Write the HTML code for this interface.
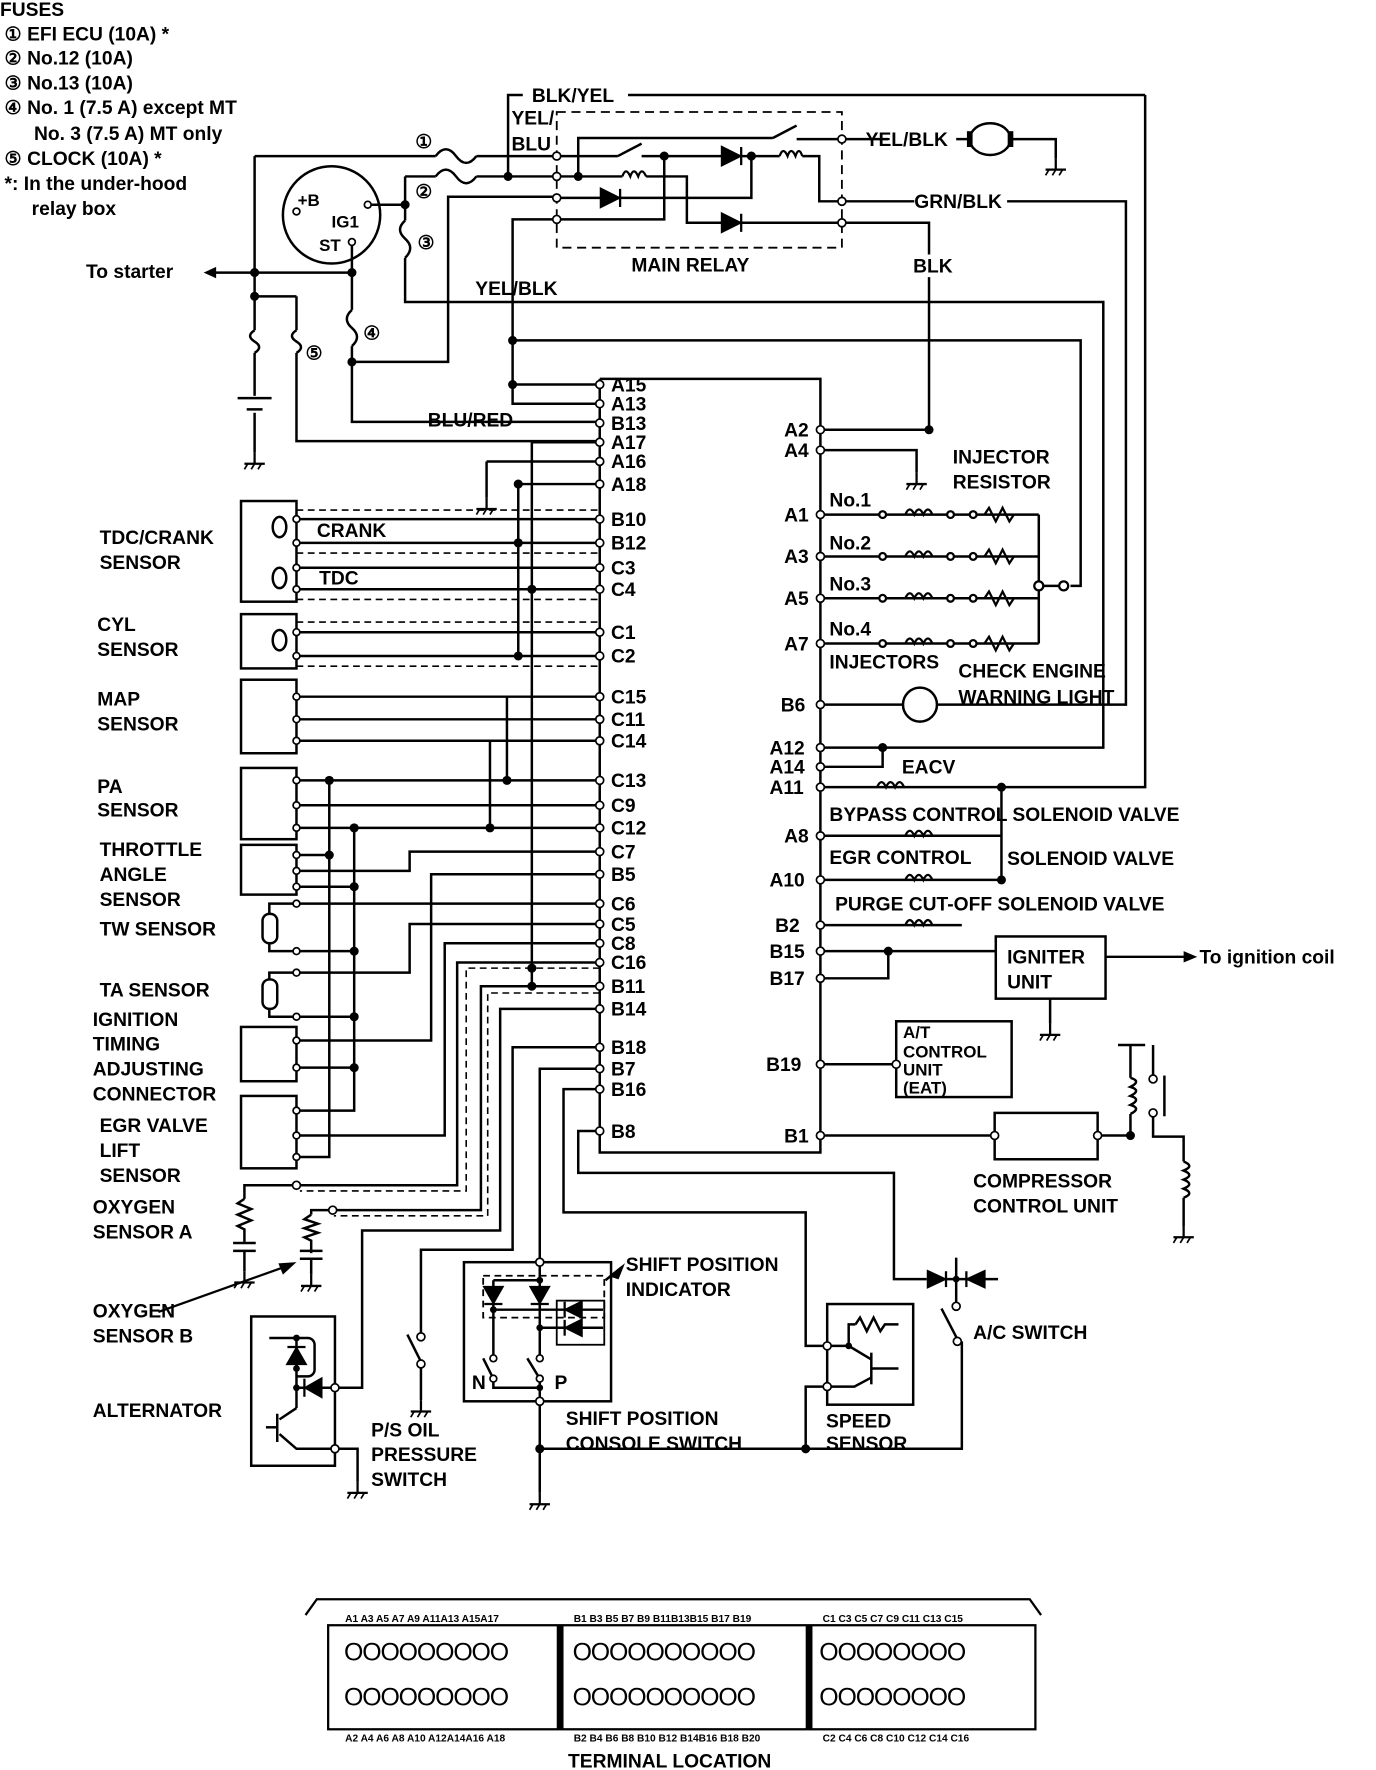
<!DOCTYPE html>
<html><head><meta charset="utf-8"><style>
html,body{margin:0;padding:0;background:#fff;}
svg{display:block;}
text{font-family:"Liberation Sans",sans-serif;font-weight:bold;fill:#000;}
</style></head><body>
<svg width="1376" height="1770" viewBox="0 0 1216 1565" preserveAspectRatio="none" xmlns="http://www.w3.org/2000/svg">
<defs>
<g id="gnd"><line x1="0" y1="0" x2="0" y2="10" stroke="#000" stroke-width="2"/><line x1="-9" y1="10" x2="9" y2="10" stroke="#000" stroke-width="2"/><line x1="-6" y1="10" x2="-9" y2="15" stroke="#000" stroke-width="1.5"/><line x1="0" y1="10" x2="-3" y2="15" stroke="#000" stroke-width="1.5"/><line x1="6" y1="10" x2="3" y2="15" stroke="#000" stroke-width="1.5"/></g>
<g id="inj" stroke="#000" stroke-width="2" fill="#fff">
<circle cx="780" cy="455" r="3"/><path d="M800,455 q4,-9 8,0 q4,-9 8,0 q4,-9 8,0" fill="none"/><circle cx="840" cy="455" r="3"/><circle cx="860" cy="455" r="3"/><path d="M870,455 l4,-6 l6,12 l6,-12 l6,12 l4,-6" fill="none"/>
</g>
</defs>
<rect width="1216" height="1565" fill="#fff"/>
<g font-size="17">
<text x="0" y="14">FUSES</text>
<text x="4" y="36">① EFI ECU (10A) *</text>
<text x="4" y="57">② No.12 (10A)</text>
<text x="4" y="79">③ No.13 (10A)</text>
<text x="4" y="101">④ No. 1 (7.5 A) except MT</text>
<text x="30" y="124">No. 3 (7.5 A) MT only</text>
<text x="4" y="146">⑤ CLOCK (10A) *</text>
<text x="4" y="168">*: In the under-hood</text>
<text x="28" y="190">relay box</text>
</g>
<g stroke="#000" stroke-width="2.2" fill="none">
<!-- top wiring -->
<polyline points="449,156 449,84 462,84"/>
<line x1="555" y1="84" x2="1012" y2="84"/>
<polyline points="1012,84 1012,696 725,696"/>
<line x1="225" y1="138" x2="385" y2="138"/><line x1="421" y1="138" x2="492" y2="138"/>
<line x1="358" y1="156" x2="385" y2="156"/><line x1="421" y1="156" x2="492" y2="156"/>
<polyline points="358,156 358,195"/><polyline points="358,228 358,267 975,267 975,661 725,661"/>
<line x1="325" y1="181" x2="358" y2="181"/>
<polyline points="492,174 396,174 396,320 311,320"/>
<polyline points="492,194 453,194 453,357 530,357"/>
<polyline points="453,301 955,301 955,518 946,518"/>
<line x1="453" y1="340" x2="530" y2="340"/>
<line x1="225" y1="138" x2="225" y2="292"/>
<line x1="225" y1="312" x2="225" y2="350"/>
<line x1="311" y1="214" x2="311" y2="274"/>
<polyline points="311,306 311,373 530,373"/>
<line x1="190" y1="241" x2="311" y2="241"/>
<line x1="225" y1="262" x2="262" y2="262"/>
<polyline points="262,262 262,292"/>
<polyline points="262,312 262,390 530,390"/>
<!-- relay -->
<rect x="492" y="99" width="252" height="120" stroke-dasharray="8,5" stroke-width="1.6"/>
<line x1="492" y1="138" x2="546" y2="138"/><line x1="546" y1="138" x2="567" y2="127"/>
<polyline points="567,138 689,138"/><polyline points="709,138 724,138 724,178 744,178"/>
<polyline points="587,138 587,194 492,194"/>
<polyline points="492,156 550,156"/><polyline points="571,156 607,156 607,197 744,197"/>
<polyline points="511,156 511,122 683,122"/><line x1="683" y1="122" x2="704" y2="111"/>
<polyline points="704,123 744,123"/>
<polyline points="492,175 664,175 664,138"/>
<polyline points="744,123 785,123"/><polyline points="845,123 857,123"/>
<polyline points="893,123 933,123 933,140"/>
<ellipse cx="875" cy="123" rx="18" ry="14"/>
<line x1="857" y1="116" x2="857" y2="130" stroke-width="5"/><line x1="893" y1="116" x2="893" y2="130" stroke-width="5"/>
<polyline points="744,178 808,178"/><polyline points="890,178 995,178 995,623 725,623"/>
<polyline points="744,197 821,197 821,225"/><polyline points="821,245 821,380"/>
<!-- ignition switch -->
<circle cx="293" cy="190" r="43"/>
<!-- fuses -->
<path d="M385,138 q9,-12 18,0 q9,12 18,0"/>
<path d="M385,156 q9,-12 18,0 q9,12 18,0"/>
<path d="M358,195 q-9,8 0,16 q9,8 0,17"/>
<path d="M311,274 q-9,8 0,16 q9,8 0,16"/>
<path d="M225,292 q-8,5 0,10 q8,5 0,10"/>
<path d="M262,292 q-8,5 0,10 q8,5 0,10"/>
<!-- battery -->
<line x1="210" y1="352" x2="240" y2="352"/>
<line x1="218" y1="362" x2="232" y2="362"/>
<line x1="225" y1="365" x2="225" y2="400"/>
<!-- ECU -->
<polyline points="530,335 725,335 725,1019 530,1019 530,335"/>
<!-- right side -->
<polyline points="725,380 821,380"/>
<polyline points="725,398 810,398 810,418"/>
<line x1="725" y1="455" x2="918" y2="455"/>
<line x1="725" y1="492" x2="918" y2="492"/>
<line x1="725" y1="529" x2="918" y2="529"/>
<line x1="725" y1="569" x2="918" y2="569"/>
<line x1="918" y1="455" x2="918" y2="569"/>
<line x1="918" y1="518" x2="936" y2="518"/>
<circle cx="813" cy="623" r="15" fill="#fff"/>
<polyline points="725,678 780,678 780,661"/>
<polyline points="885,696 885,778"/>
<line x1="725" y1="739" x2="885" y2="739"/>
<line x1="725" y1="778" x2="885" y2="778"/>
<line x1="725" y1="818" x2="850" y2="818"/>
<line x1="725" y1="841" x2="880" y2="841"/>
<polyline points="725,865 785,865 785,841"/>
<rect x="880" y="828" width="97" height="55"/>
<line x1="977" y1="846" x2="1050" y2="846"/>
<line x1="928" y1="883" x2="928" y2="905"/>
<line x1="725" y1="941" x2="792" y2="941"/>
<rect x="792" y="903" width="102" height="67"/>
<line x1="725" y1="1004" x2="879" y2="1004"/>
<rect x="879" y="984" width="91" height="41"/>
<polyline points="970,1004 999,1004 999,985"/>
<polyline points="999,953 999,924"/>
<line x1="988" y1="924" x2="1012" y2="924"/>
<path d="M999,953 q10,3 0,8 q10,3 0,8 q10,3 0,8 q10,3 0,8"/>
<polyline points="1019,924 1019,954"/>
<polyline points="1019,984 1019,1005 1046,1005 1046,1027"/>
<path d="M1046,1027 q10,4 0,8 q10,4 0,8 q10,4 0,8 q10,4 0,8"/>
<line x1="1046" y1="1059" x2="1046" y2="1084"/>
<line x1="1029" y1="951" x2="1029" y2="987"/>
<!-- left sensors -->
<rect x="213" y="443" width="49" height="89"/>
<rect x="213" y="543" width="49" height="48"/>
<rect x="213" y="601" width="49" height="65"/>
<rect x="213" y="679" width="49" height="63"/>
<rect x="213" y="747" width="49" height="44"/>
<rect x="213" y="908" width="49" height="48"/>
<rect x="213" y="969" width="49" height="64"/>
<ellipse cx="247" cy="466" rx="6" ry="9"/><ellipse cx="247" cy="511" rx="6" ry="9"/><ellipse cx="247" cy="566" rx="6" ry="9"/>
<rect x="232" y="808" width="13" height="26" rx="6"/><rect x="232" y="866" width="13" height="26" rx="6"/>
<line x1="262" y1="459" x2="530" y2="459"/><line x1="262" y1="480" x2="530" y2="480"/>
<line x1="262" y1="502" x2="530" y2="502"/><line x1="262" y1="521" x2="530" y2="521"/>
<line x1="262" y1="559" x2="530" y2="559"/><line x1="262" y1="580" x2="530" y2="580"/>
<line x1="262" y1="616" x2="530" y2="616"/><line x1="262" y1="636" x2="530" y2="636"/><line x1="262" y1="655" x2="530" y2="655"/>
<line x1="262" y1="690" x2="530" y2="690"/><line x1="262" y1="712" x2="530" y2="712"/><line x1="262" y1="732" x2="530" y2="732"/>
<polyline points="262,770 362,770 362,753 530,753"/>
<line x1="262" y1="756" x2="291" y2="756"/><line x1="262" y1="784" x2="313" y2="784"/>
<polyline points="530,773 381,773 381,920 262,920"/>
<line x1="448" y1="616" x2="448" y2="690"/><line x1="433" y1="655" x2="433" y2="732"/>
<polyline points="291,690 291,1023 262,1023"/>
<polyline points="313,732 313,982 262,982"/>
<line x1="262" y1="944" x2="313" y2="944"/>
<!-- TW / TA -->
<polyline points="530,799 238,799 238,808"/><polyline points="238,834 238,841 313,841"/>
<polyline points="530,817 362,817 362,860 238,860 238,866"/><polyline points="238,892 238,899 313,899"/>
<polyline points="530,834 393,834 393,1004 262,1004"/>
<polyline points="530,851 404,851 404,1048 216,1048 216,1060"/>
<polyline points="530,872 425,872 425,1070 275,1070 275,1074"/>
<polyline points="530,892 442,892 442,1088 320,1088 320,1227 296,1227"/>
<polyline points="530,926 453,926 453,1105 372,1105 372,1182"/>
<polyline points="530,945 477,945 477,1116"/>
<polyline points="530,963 498,963 498,1072 712,1072 712,1190 731,1190"/>
<polyline points="530,1000 511,1000 511,1037 790,1037 790,1131 819,1131"/>
<line x1="470" y1="391" x2="470" y2="875"/><line x1="470" y1="391" x2="530" y2="391"/>
<line x1="430" y1="408" x2="530" y2="408"/><polyline points="430,408 430,440"/>
<line x1="458" y1="428" x2="530" y2="428"/><line x1="458" y1="428" x2="458" y2="580"/>
<!-- oxygen sensors -->
<path d="M216,1060 l-6,4 l12,5 l-12,5 l12,5 l-12,5 l6,3 v11"/>
<line x1="206" y1="1099" x2="226" y2="1099"/><line x1="206" y1="1106" x2="226" y2="1106"/><line x1="216" y1="1106" x2="216" y2="1124"/>
<path d="M275,1074 l-6,4 l12,4 l-12,4 l12,4 l-12,4 l6,3 v11"/>
<line x1="265" y1="1106" x2="285" y2="1106"/><line x1="265" y1="1113" x2="285" y2="1113"/><line x1="275" y1="1113" x2="275" y2="1127"/>
<!-- alternator -->
<rect x="222" y="1164" width="74" height="132"/>
<polyline points="238,1183 262,1183 262,1227 296,1227"/>
<path d="M262,1183 h10 a6,6 0 0 1 6,6 v22 a6,6 0 0 1 -6,6 h-10" />
<line x1="262" y1="1227" x2="262" y2="1245"/><line x1="262" y1="1245" x2="247" y2="1255"/>
<line x1="245" y1="1250" x2="245" y2="1275"/><line x1="235" y1="1262" x2="245" y2="1262"/>
<polyline points="247,1268 262,1281 296,1281 316,1281 316,1310"/>
<!-- P/S switch -->
<line x1="372" y1="1206" x2="372" y2="1238"/><line x1="360" y1="1180" x2="372" y2="1204"/>
<!-- shift position -->
<rect x="410" y="1116" width="130" height="123"/>
<rect x="427" y="1128" width="107" height="37" stroke-dasharray="6,4" stroke-width="1.6"/>
<polyline points="477,1116 477,1132"/>
<polyline points="436,1132 477,1132 477,1198"/>
<line x1="436" y1="1132" x2="436" y2="1198"/>
<line x1="436" y1="1158" x2="533" y2="1158"/><line x1="477" y1="1174" x2="533" y2="1174"/>
<rect x="492" y="1150" width="42" height="39" stroke-width="1.6"/>
<line x1="427" y1="1201" x2="436" y2="1219"/><line x1="466" y1="1201" x2="477" y2="1219"/>
<polyline points="436,1219 436,1227 477,1227 477,1219"/>
<line x1="477" y1="1227" x2="477" y2="1320"/>
<line x1="535" y1="1132" x2="550" y2="1120"/>
<polyline points="477,1281 850,1281 850,1186"/>
<polyline points="731,1226 712,1226 712,1281"/>
<!-- speed sensor -->
<rect x="731" y="1153" width="76" height="89"/>
<polyline points="731,1190 750,1190 750,1171 756,1171"/>
<path d="M756,1171 l4,-6 l6,12 l6,-12 l6,12 l4,-6 h12"/>
<line x1="750" y1="1190" x2="770" y2="1202"/><line x1="770" y1="1196" x2="770" y2="1224"/>
<line x1="770" y1="1210" x2="794" y2="1210"/><polyline points="770,1218 755,1226 731,1226"/>
<!-- A/C -->
<line x1="845" y1="1112" x2="845" y2="1155"/><line x1="835" y1="1131" x2="882" y2="1131"/>
<line x1="832" y1="1157" x2="846" y2="1184"/>
<line x1="860" y1="1131" x2="870" y2="1131"/>
</g>
<g stroke="#000" stroke-width="1.4" stroke-dasharray="6,4" fill="none">
<line x1="262" y1="451" x2="530" y2="451"/><line x1="262" y1="489" x2="530" y2="489"/>
<line x1="262" y1="530" x2="530" y2="530"/><line x1="262" y1="550" x2="530" y2="550"/>
<line x1="262" y1="589" x2="530" y2="589"/>
<polyline points="530,856 412,856 412,1053 265,1053"/>
<polyline points="530,878 431,878 431,1075 295,1075"/>
</g>
<g stroke="#000" stroke-width="2" fill="#fff">
<use href="#inj"/><use href="#inj" y="37"/><use href="#inj" y="74"/><use href="#inj" y="114"/>
<path d="M775,696 q4,-9 8,0 q4,-9 8,0 q4,-9 8,0" fill="none"/>
<path d="M800,739 q4,-9 8,0 q4,-9 8,0 q4,-9 8,0" fill="none"/>
<path d="M800,778 q4,-9 8,0 q4,-9 8,0 q4,-9 8,0" fill="none"/>
<path d="M800,818 q4,-9 8,0 q4,-9 8,0 q4,-9 8,0" fill="none"/>
<path d="M550,156 q3,-9 7,0 q3,-9 7,0 q3,-9 7,0" fill="none"/>
<path d="M689,138 q3,-9 7,0 q3,-9 7,0 q3,-9 6,0" fill="none"/>
<circle cx="918" cy="518" r="4"/><circle cx="940" cy="518" r="4"/>
</g>
<!-- diodes -->
<g fill="#000" stroke="#000" stroke-width="2">
<polygon points="531,167 531,183 547,175"/><line x1="548" y1="167" x2="548" y2="183"/>
<polygon points="638,130 638,146 654,138"/><line x1="655" y1="130" x2="655" y2="146"/>
<polygon points="638,189 638,205 654,197"/><line x1="655" y1="189" x2="655" y2="205"/>
<polygon points="254,1206 270,1206 262,1192"/><line x1="254" y1="1191" x2="270" y2="1191"/>
<polygon points="284,1219 284,1235 270,1227"/><line x1="269" y1="1219" x2="269" y2="1235"/>
<polygon points="428,1138 444,1138 436,1152"/><line x1="428" y1="1153" x2="444" y2="1153"/>
<polygon points="469,1138 485,1138 477,1152"/><line x1="469" y1="1153" x2="485" y2="1153"/>
<polygon points="514,1151 514,1165 500,1158"/><line x1="499" y1="1151" x2="499" y2="1165"/>
<polygon points="514,1167 514,1181 500,1174"/><line x1="499" y1="1167" x2="499" y2="1181"/>
<polygon points="820,1124 820,1138 835,1131"/><line x1="836" y1="1124" x2="836" y2="1138"/>
<polygon points="870,1124 870,1138 855,1131"/><line x1="854" y1="1124" x2="854" y2="1138"/>
<polygon points="550,1120 540,1128 546,1130" />
</g>
<!-- grounds -->
<use href="#gnd" x="933" y="140"/><use href="#gnd" x="810" y="418"/><use href="#gnd" x="430" y="440"/>
<use href="#gnd" x="225" y="400"/><use href="#gnd" x="928" y="905"/><use href="#gnd" x="1046" y="1084"/>
<use href="#gnd" x="216" y="1124"/><use href="#gnd" x="275" y="1127"/><use href="#gnd" x="372" y="1238"/><use href="#gnd" x="477" y="1320"/><use href="#gnd" x="316" y="1310"/>
<!-- dots -->
<g fill="#000">
<circle cx="449" cy="156" r="4"/><circle cx="511" cy="156" r="4"/><circle cx="587" cy="138" r="4"/><circle cx="664" cy="138" r="4"/>
<circle cx="358" cy="181" r="4"/><circle cx="225" cy="262" r="4"/><circle cx="225" cy="241" r="4"/><circle cx="311" cy="241" r="4"/><circle cx="311" cy="320" r="4"/>
<circle cx="453" cy="301" r="4"/><circle cx="453" cy="340" r="4"/><circle cx="821" cy="380" r="4"/><circle cx="780" cy="661" r="4"/>
<circle cx="885" cy="696" r="4"/><circle cx="885" cy="778" r="4"/><circle cx="785" cy="841" r="4"/>
<circle cx="458" cy="428" r="4"/><circle cx="458" cy="480" r="4"/><circle cx="458" cy="580" r="4"/><circle cx="470" cy="521" r="4"/><circle cx="470" cy="856" r="4"/><circle cx="470" cy="872" r="4"/>
<circle cx="448" cy="690" r="4"/><circle cx="433" cy="732" r="4"/><circle cx="291" cy="690" r="4"/><circle cx="313" cy="732" r="4"/><circle cx="291" cy="756" r="4"/><circle cx="313" cy="784" r="4"/>
<circle cx="313" cy="841" r="4"/><circle cx="313" cy="899" r="4"/><circle cx="313" cy="944" r="4"/>
<circle cx="477" cy="1281" r="4"/><circle cx="712" cy="1281" r="4"/><circle cx="999" cy="1004" r="4"/><circle cx="845" cy="1131" r="3"/>
<circle cx="262" cy="1227" r="3"/><circle cx="262" cy="1210" r="3"/><circle cx="262" cy="1183" r="3"/><circle cx="750" cy="1190" r="3"/>
<circle cx="436" cy="1158" r="3"/><circle cx="477" cy="1174" r="3"/><circle cx="477" cy="1132" r="3"/><circle cx="477" cy="1227" r="3"/>
</g>
<!-- pin circles -->
<g fill="#fff" stroke="#000" stroke-width="1.5">
<circle cx="530" cy="340" r="3.5"/><circle cx="530" cy="357" r="3.5"/><circle cx="530" cy="374" r="3.5"/><circle cx="530" cy="391" r="3.5"/><circle cx="530" cy="408" r="3.5"/><circle cx="530" cy="428" r="3.5"/>
<circle cx="530" cy="459" r="3.5"/><circle cx="530" cy="480" r="3.5"/><circle cx="530" cy="502" r="3.5"/><circle cx="530" cy="521" r="3.5"/><circle cx="530" cy="559" r="3.5"/><circle cx="530" cy="580" r="3.5"/>
<circle cx="530" cy="616" r="3.5"/><circle cx="530" cy="636" r="3.5"/><circle cx="530" cy="655" r="3.5"/><circle cx="530" cy="690" r="3.5"/><circle cx="530" cy="712" r="3.5"/><circle cx="530" cy="732" r="3.5"/>
<circle cx="530" cy="753" r="3.5"/><circle cx="530" cy="773" r="3.5"/><circle cx="530" cy="799" r="3.5"/><circle cx="530" cy="817" r="3.5"/><circle cx="530" cy="834" r="3.5"/><circle cx="530" cy="851" r="3.5"/>
<circle cx="530" cy="872" r="3.5"/><circle cx="530" cy="892" r="3.5"/><circle cx="530" cy="926" r="3.5"/><circle cx="530" cy="945" r="3.5"/><circle cx="530" cy="963" r="3.5"/><circle cx="530" cy="1000" r="3.5"/>
<circle cx="725" cy="380" r="3.5"/><circle cx="725" cy="398" r="3.5"/><circle cx="725" cy="455" r="3.5"/><circle cx="725" cy="492" r="3.5"/><circle cx="725" cy="529" r="3.5"/><circle cx="725" cy="569" r="3.5"/>
<circle cx="725" cy="623" r="3.5"/><circle cx="725" cy="661" r="3.5"/><circle cx="725" cy="678" r="3.5"/><circle cx="725" cy="696" r="3.5"/><circle cx="725" cy="739" r="3.5"/><circle cx="725" cy="778" r="3.5"/>
<circle cx="725" cy="818" r="3.5"/><circle cx="725" cy="841" r="3.5"/><circle cx="725" cy="865" r="3.5"/><circle cx="725" cy="941" r="3.5"/><circle cx="725" cy="1004" r="3.5"/>
<circle cx="492" cy="138" r="3.5"/><circle cx="492" cy="156" r="3.5"/><circle cx="492" cy="175" r="3.5"/><circle cx="492" cy="194" r="3.5"/>
<circle cx="744" cy="123" r="3.5"/><circle cx="744" cy="178" r="3.5"/><circle cx="744" cy="197" r="3.5"/>
<circle cx="262" cy="187" r="3"/><circle cx="325" cy="181" r="3"/><circle cx="311" cy="214" r="3"/>
<circle cx="262" cy="459" r="3"/><circle cx="262" cy="480" r="3"/><circle cx="262" cy="502" r="3"/><circle cx="262" cy="521" r="3"/><circle cx="262" cy="559" r="3"/><circle cx="262" cy="580" r="3"/>
<circle cx="262" cy="616" r="3"/><circle cx="262" cy="636" r="3"/><circle cx="262" cy="655" r="3"/><circle cx="262" cy="690" r="3"/><circle cx="262" cy="712" r="3"/><circle cx="262" cy="732" r="3"/>
<circle cx="262" cy="756" r="3"/><circle cx="262" cy="770" r="3"/><circle cx="262" cy="784" r="3"/><circle cx="262" cy="799" r="3"/><circle cx="262" cy="841" r="3"/><circle cx="262" cy="860" r="3"/><circle cx="262" cy="899" r="3"/>
<circle cx="262" cy="920" r="3"/><circle cx="262" cy="944" r="3"/><circle cx="262" cy="982" r="3"/><circle cx="262" cy="1004" r="3"/><circle cx="262" cy="1023" r="3"/>
<circle cx="262" cy="1048" r="3.5"/><circle cx="294" cy="1070" r="3.5"/>
<circle cx="296" cy="1227" r="3.5"/><circle cx="296" cy="1281" r="3.5"/>
<circle cx="372" cy="1182" r="3.5"/><circle cx="372" cy="1206" r="3.5"/>
<circle cx="477" cy="1116" r="3.5"/><circle cx="477" cy="1239" r="3.5"/>
<circle cx="436" cy="1201" r="3"/><circle cx="477" cy="1201" r="3"/><circle cx="436" cy="1219" r="3"/><circle cx="477" cy="1219" r="3"/>
<circle cx="731" cy="1190" r="3.5"/><circle cx="731" cy="1226" r="3.5"/>
<circle cx="845" cy="1155" r="3.5"/><circle cx="846" cy="1186" r="3.5"/>
<circle cx="792" cy="941" r="3.5"/><circle cx="879" cy="1004" r="3.5"/><circle cx="970" cy="1004" r="3.5"/>
<circle cx="1019" cy="954" r="3.5"/><circle cx="1019" cy="984" r="3.5"/>
</g>
<g font-size="17">
<text x="470" y="90">BLK/YEL</text>
<text x="452" y="110">YEL/</text><text x="452" y="133">BLU</text>
<text x="765" y="129">YEL/BLK</text><text x="808" y="184">GRN/BLK</text>
<text x="558" y="240">MAIN RELAY</text><text x="807" y="241">BLK</text>
<text x="420" y="261">YEL/BLK</text>
<text x="367" y="131">①</text><text x="367" y="175">②</text><text x="369" y="220">③</text><text x="321" y="300">④</text><text x="270" y="318">⑤</text>
<text x="263" y="182" font-size="15">+B</text><text x="293" y="201" font-size="15">IG1</text><text x="282" y="222" font-size="15">ST</text>
<text x="76" y="246">To starter</text>
<text x="378" y="377">BLU/RED</text>
<text x="540" y="346">A15</text><text x="540" y="363">A13</text><text x="540" y="380">B13</text><text x="540" y="397">A17</text><text x="540" y="414">A16</text><text x="540" y="434">A18</text>
<text x="540" y="465">B10</text><text x="540" y="486">B12</text><text x="540" y="508">C3</text><text x="540" y="527">C4</text><text x="540" y="565">C1</text><text x="540" y="586">C2</text>
<text x="540" y="622">C15</text><text x="540" y="642">C11</text><text x="540" y="661">C14</text><text x="540" y="696">C13</text><text x="540" y="718">C9</text><text x="540" y="738">C12</text>
<text x="540" y="759">C7</text><text x="540" y="779">B5</text><text x="540" y="805">C6</text><text x="540" y="823">C5</text><text x="540" y="840">C8</text><text x="540" y="857">C16</text>
<text x="540" y="878">B11</text><text x="540" y="898">B14</text><text x="540" y="932">B18</text><text x="540" y="951">B7</text><text x="540" y="969">B16</text><text x="540" y="1006">B8</text>
<text x="693" y="386">A2</text><text x="693" y="404">A4</text><text x="693" y="461">A1</text><text x="693" y="498">A3</text><text x="693" y="535">A5</text><text x="693" y="575">A7</text>
<text x="690" y="629">B6</text><text x="680" y="667">A12</text><text x="680" y="684">A14</text><text x="680" y="702">A11</text><text x="693" y="745">A8</text><text x="680" y="784">A10</text>
<text x="685" y="824">B2</text><text x="680" y="847">B15</text><text x="680" y="871">B17</text><text x="677" y="947">B19</text><text x="693" y="1010">B1</text>
<text x="842" y="410">INJECTOR</text><text x="842" y="432">RESISTOR</text>
<text x="733" y="448">No.1</text><text x="733" y="486">No.2</text><text x="733" y="522">No.3</text><text x="733" y="562">No.4</text>
<text x="733" y="591">INJECTORS</text><text x="847" y="599">CHECK ENGINE</text><text x="847" y="622">WARNING LIGHT</text>
<text x="797" y="684">EACV</text>
<text x="733" y="726">BYPASS CONTROL SOLENOID VALVE</text>
<text x="733" y="764">EGR CONTROL</text><text x="890" y="765">SOLENOID VALVE</text>
<text x="738" y="805">PURGE CUT-OFF SOLENOID VALVE</text>
<text x="890" y="852">IGNITER</text><text x="890" y="874">UNIT</text>
<text x="1060" y="852">To ignition coil</text>
<text x="798" y="918" font-size="15">A/T</text><text x="798" y="935" font-size="15">CONTROL</text><text x="798" y="951" font-size="15">UNIT</text><text x="798" y="967" font-size="15">(EAT)</text>
<text x="860" y="1050">COMPRESSOR</text><text x="860" y="1072">CONTROL UNIT</text>
<text x="553" y="1124">SHIFT POSITION</text><text x="553" y="1146">INDICATOR</text>
<text x="860" y="1184">A/C SWITCH</text>
<text x="500" y="1260">SHIFT POSITION</text><text x="500" y="1282">CONSOLE SWITCH</text>
<text x="730" y="1262">SPEED</text><text x="730" y="1282">SENSOR</text>
<text x="417" y="1228">N</text><text x="490" y="1228">P</text>
<text x="328" y="1270">P/S OIL</text><text x="328" y="1292">PRESSURE</text><text x="328" y="1314">SWITCH</text>
<text x="280" y="475">CRANK</text><text x="282" y="517">TDC</text>
<text x="88" y="481">TDC/CRANK</text><text x="88" y="503">SENSOR</text>
<text x="86" y="558">CYL</text><text x="86" y="580">SENSOR</text>
<text x="86" y="624">MAP</text><text x="86" y="646">SENSOR</text>
<text x="86" y="701">PA</text><text x="86" y="722">SENSOR</text>
<text x="88" y="757">THROTTLE</text><text x="88" y="779">ANGLE</text><text x="88" y="801">SENSOR</text>
<text x="88" y="827">TW SENSOR</text><text x="88" y="881">TA SENSOR</text>
<text x="82" y="907">IGNITION</text><text x="82" y="929">TIMING</text><text x="82" y="951">ADJUSTING</text><text x="82" y="973">CONNECTOR</text>
<text x="88" y="1001">EGR VALVE</text><text x="88" y="1023">LIFT</text><text x="88" y="1045">SENSOR</text>
<text x="82" y="1073">OXYGEN</text><text x="82" y="1095">SENSOR A</text>
<text x="82" y="1165">OXYGEN</text><text x="82" y="1187">SENSOR B</text>
<text x="82" y="1253">ALTERNATOR</text>
<text x="502" y="1563">TERMINAL LOCATION</text>
</g>
<polygon points="180,241 191,236 191,246" fill="#000"/>
<polygon points="1058,846 1046,841 1046,851" fill="#000"/>
<line x1="140" y1="1160" x2="252" y2="1120" stroke="#000" stroke-width="2"/><polygon points="262,1116 246,1117 250,1127" fill="#000"/>
<!-- bottom connector -->
<g stroke="#000" stroke-width="2" fill="none">
<polyline points="270,1428 280,1414 910,1414 920,1428"/>
<rect x="290" y="1437" width="625" height="92"/>
<line x1="495" y1="1437" x2="495" y2="1529" stroke-width="6"/>
<line x1="715" y1="1437" x2="715" y2="1529" stroke-width="6"/>
</g>
<g font-size="9">
<text x="305" y="1434">A1 A3 A5 A7 A9 A11A13 A15A17</text>
<text x="507" y="1434">B1 B3 B5 B7 B9 B11B13B15 B17 B19</text>
<text x="727" y="1434">C1 C3 C5 C7 C9 C11 C13 C15</text>
<text x="305" y="1540">A2 A4 A6 A8 A10 A12A14A16 A18</text>
<text x="507" y="1540">B2 B4 B6 B8 B10 B12 B14B16 B18 B20</text>
<text x="727" y="1540">C2 C4 C6 C8 C10 C12 C14 C16</text>
</g>
<g font-size="22">
<text x="304" y="1468" style="font-weight:normal;letter-spacing:-1px">OOOOOOOOO</text>
<text x="304" y="1508" style="font-weight:normal;letter-spacing:-1px">OOOOOOOOO</text>
<text x="506" y="1468" style="font-weight:normal;letter-spacing:-1px">OOOOOOOOOO</text>
<text x="506" y="1508" style="font-weight:normal;letter-spacing:-1px">OOOOOOOOOO</text>
<text x="724" y="1468" style="font-weight:normal;letter-spacing:-1px">OOOOOOOO</text>
<text x="724" y="1508" style="font-weight:normal;letter-spacing:-1px">OOOOOOOO</text>
</g>
</svg>
</body></html>
